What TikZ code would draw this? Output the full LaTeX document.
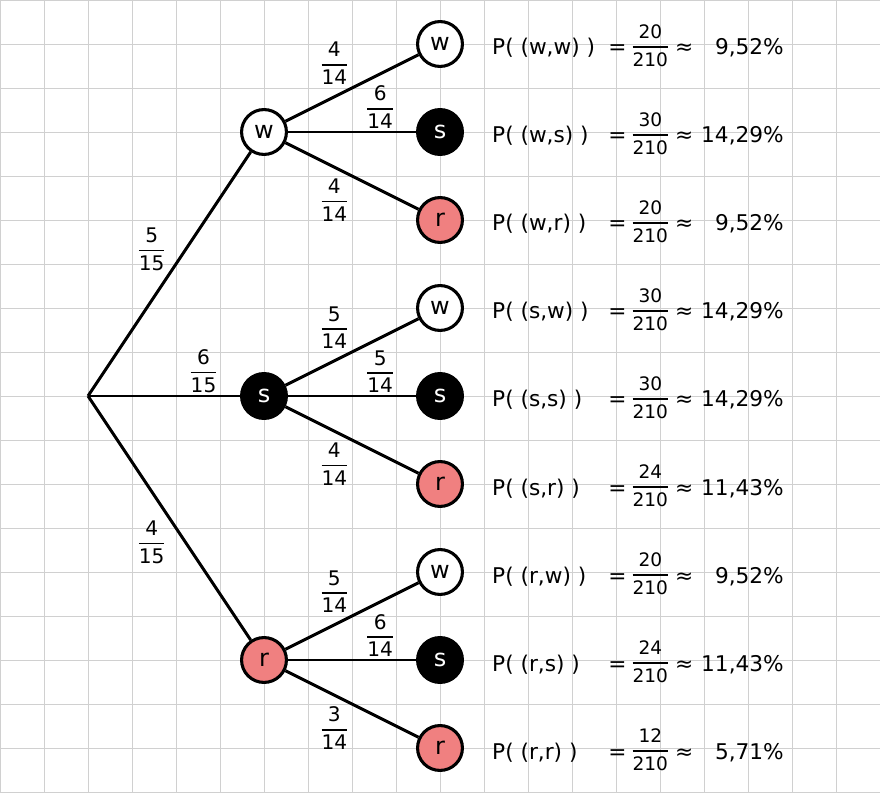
\documentclass[tikz,border=0pt]{standalone}
\usepackage{amsmath}
\usepackage{fontspec}
\setmainfont{DejaVu Sans}
\usetikzlibrary{positioning}
\definecolor{redball}{RGB}{240,128,128}
\definecolor{gridgray}{RGB}{208,208,208}
\newcommand{\fr}[2]{$\genfrac{}{}{1pt}{0}{\text{#1}}{\text{#2}}$}

\begin{document}
\begin{tikzpicture}[
  ball/.style={circle,draw,line width=2pt,minimum size=1.02cm,inner sep=0pt,font=\fontsize{15.5}{18}\selectfont},
  wball/.style={ball,fill=white},
  sball/.style={ball,fill=black,text=white},
  rball/.style={ball,fill=redball},
  branch/.style={line width=1.9pt},
  prob/.style={font=\fontsize{13}{15}\selectfont,inner sep=1pt},
  result/.style={font=\fontsize{12}{14}\selectfont,inner sep=0pt},
  row/.style={font=\fontsize{14}{17}\selectfont,inner sep=0pt}]
\useasboundingbox (0,0) rectangle (20,18);
\draw[gridgray,line width=0.6pt] (0,0) grid (20,18);

% first draw
\coordinate (root) at (2,9);
\node[wball] (w) at (6,15) {w};
\node[sball] (s) at (6,9) {s};
\node[rball] (r) at (6,3) {r};

% second draw and results
\foreach \lf/\st/\ltr/\y/\lab/\num/\pct in {
  ww/wball/w/17/{P( (w,w) )}/20/{9,52\%},
  ws/sball/s/15/{P( (w,s) )}/30/{14,29\%},
  wr/rball/r/13/{P( (w,r) )}/20/{9,52\%},
  sw/wball/w/11/{P( (s,w) )}/30/{14,29\%},
  ss/sball/s/9/{P( (s,s) )}/30/{14,29\%},
  sr/rball/r/7/{P( (s,r) )}/24/{11,43\%},
  rw/wball/w/5/{P( (r,w) )}/20/{9,52\%},
  rs/sball/s/3/{P( (r,s) )}/24/{11,43\%},
  rr/rball/r/1/{P( (r,r) )}/12/{5,71\%}} {
  \node[\st] (\lf) at (10,\y) {\ltr};
  \node[row,anchor=base west] (p\lf) at (11.18,\y-0.25) {\lab};
  \node[row,anchor=base] (eq\lf) at (14.03,\y-0.25) {=};
  \node[result] (fr\lf) at (14.78,\y-0.04) {\fr{\num}{210}};
  \node[row,anchor=base] (ap\lf) at (15.55,\y-0.25) {≈};
  \node[row,anchor=base east] (pc\lf) at (17.82,\y-0.25) {\pct};
}

\draw[branch] (root) -- node[prob,anchor=south east] {\fr{5}{15}} (w);
\draw[branch] (root) -- node[prob,pos=0.76,anchor=south] {\fr{6}{15}} (s);
\draw[branch] (root) -- node[prob,anchor=north east] {\fr{4}{15}} (r);

\draw[branch] (w) -- node[prob,anchor=south east] {\fr{4}{14}} (ww);
\draw[branch] (w) -- node[prob,pos=0.72,anchor=south] {\fr{6}{14}} (ws);
\draw[branch] (w) -- node[prob,anchor=north east] {\fr{4}{14}} (wr);

\draw[branch] (s) -- node[prob,anchor=south east] {\fr{5}{14}} (sw);
\draw[branch] (s) -- node[prob,pos=0.72,anchor=south] {\fr{5}{14}} (ss);
\draw[branch] (s) -- node[prob,anchor=north east] {\fr{4}{14}} (sr);

\draw[branch] (r) -- node[prob,anchor=south east] {\fr{5}{14}} (rw);
\draw[branch] (r) -- node[prob,pos=0.72,anchor=south] {\fr{6}{14}} (rs);
\draw[branch] (r) -- node[prob,anchor=north east] {\fr{3}{14}} (rr);
\end{tikzpicture}
\end{document}
